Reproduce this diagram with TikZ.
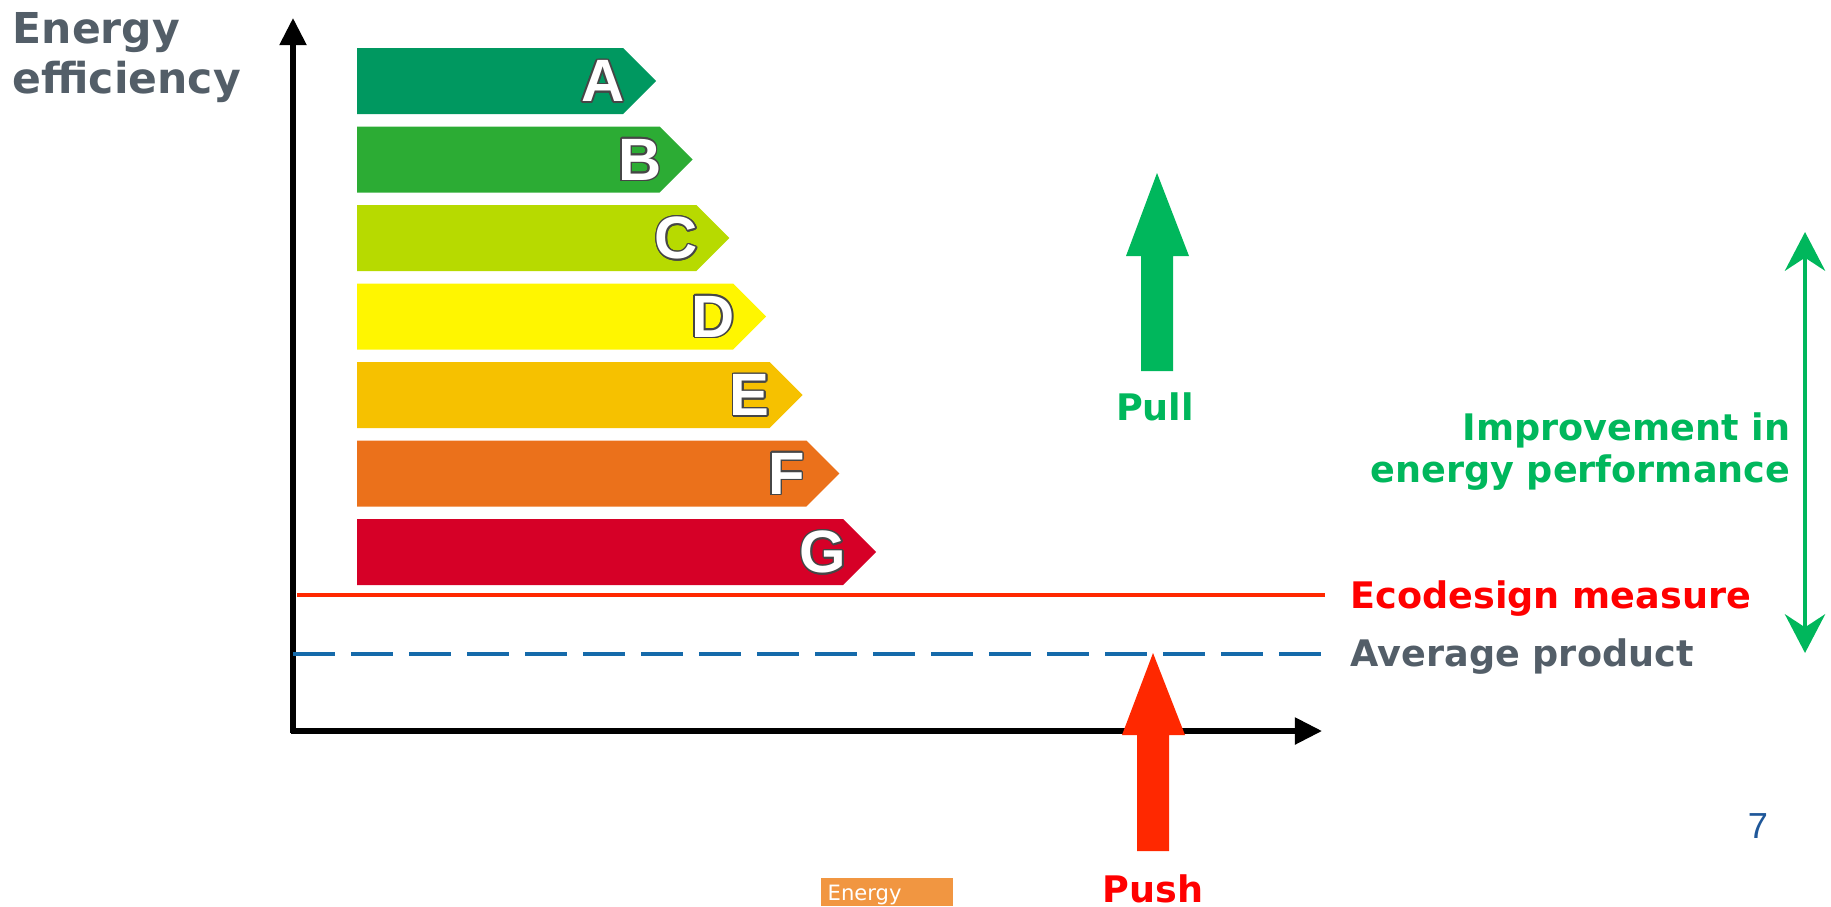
\documentclass[tikz,border=0pt]{standalone}
\usepackage{fontspec}
\setmainfont{DejaVu Sans}
\newfontfamily\arialfont{Liberation Sans}
\usepackage{contour}
\contourlength{0.45pt}
\usetikzlibrary{arrows.meta}
\usetikzlibrary{positioning}

\definecolor{barA}{RGB}{0,152,96}
\definecolor{barB}{RGB}{44,172,52}
\definecolor{barC}{RGB}{183,218,0}
\definecolor{barD}{RGB}{255,246,0}
\definecolor{barE}{RGB}{246,193,0}
\definecolor{barF}{RGB}{235,113,27}
\definecolor{barG}{RGB}{214,0,39}
\definecolor{letteredge}{RGB}{70,70,70}
\definecolor{ecored}{RGB}{255,40,0}
\definecolor{textred}{RGB}{255,0,0}
\definecolor{avgblue}{RGB}{21,106,170}
\definecolor{slategray}{RGB}{83,94,104}
\definecolor{pullgreen}{RGB}{0,183,92}
\definecolor{pageblue}{RGB}{31,87,153}
\definecolor{tagorange}{RGB}{241,150,65}

\tikzset{
  axisline/.style={line width=1.5pt, -{Triangle[length=7.7pt,width=7.4pt]}},
  heading/.style={inner sep=0pt, font=\bfseries\fontsize{10.4}{11.9}\selectfont},
  bigheading/.style={inner sep=0pt, font=\bfseries\fontsize{12.1}{12.1}\selectfont},
  classletter/.style={inner sep=0pt, text=white, font=\arialfont\bfseries\fontsize{17}{17}\selectfont},
}

\begin{document}
\begin{tikzpicture}[x=0.01cm, y=-0.01cm]
 \useasboundingbox (0,0) rectangle (1831,906);

 %axes
 \coordinate (origin) at (293,733);
 \coordinate (xstart) at (291,731);
 \coordinate (ytip) at (293,18);
 \coordinate (xtip) at (1322,731);
 \draw[axisline] (origin) -- (ytip);
 \draw[axisline] (xstart) -- (xtip);

 \node[bigheading, text=slategray, anchor=base west] (ylabel) at (12,43) {Energy};
 \node[bigheading, text=slategray, anchor=base west] (ylabelb) at (12,93) {efficiency};

 %energy label bars
 \def\dy{78.5}
 \def\dx{36.67}
 \foreach \i/\name/\col in {0/A/barA, 1/B/barB, 2/C/barC, 3/D/barD, 4/E/barE, 5/F/barF, 6/G/barG} {
   \pgfmathsetmacro\top{48+\i*\dy}
   \pgfmathsetmacro\tip{656+\i*\dx}
   \fill[\col] (357,\top) -- (\tip-33,\top) -- (\tip,\top+33) -- (\tip-33,\top+66) -- (357,\top+66) -- cycle;
   \node[classletter] (letter\name) at (\tip-53,\top+34) {\contour{letteredge}{\name}};
 }

 %threshold lines
 \coordinate (ecostart) at (297,595);
 \coordinate (ecoend) at (1325,595);
 \coordinate (avgstart) at (293,654);
 \coordinate (avgend) at (1322,654);
 \draw[ecored, line width=1.4pt] (ecostart) -- (ecoend);
 \draw[avgblue, line width=1.3pt, dash pattern=on 11.95pt off 4.55pt] (avgstart) -- (avgend);

 \node[heading, text=textred, anchor=base west] (eco) at (1350,608) {Ecodesign measure};
 \node[heading, text=slategray, anchor=base west] (avg) at (1350,666) {Average product};

 %pull
 \fill[pullgreen] (1141,371) -- (1141,256) -- (1126,256) -- (1157,173) -- (1189,256) -- (1173,256) -- (1173,371) -- cycle;
 \node[heading, text=pullgreen, anchor=base] (pull) at (1155,420) {Pull};

 %push
 \fill[ecored] (1137,851) -- (1137,735) -- (1122,735) -- (1153,653) -- (1185,735) -- (1169,735) -- (1169,851) -- cycle;
 \node[heading, text=textred, anchor=base] (push) at (1153,902) {Push};

 %improvement
 \coordinate (imprtop) at (1805,232);
 \coordinate (imprbot) at (1805,653);
 \draw[pullgreen, line width=1.4pt, {Stealth[length=11pt,width=11.4pt,inset=3.7pt]}-{Stealth[length=11pt,width=11.4pt,inset=3.7pt]}] (imprbot) -- (imprtop);
 \node[heading, text=pullgreen, anchor=base east] (impr) at (1791,440) {Improvement in};
 \node[heading, text=pullgreen, anchor=base east] (imprb) at (1791,482) {energy performance};

 %footer
 \node[inner sep=0pt, text=pageblue, font=\arialfont\fontsize{10.3}{12}\selectfont, anchor=base] (pagenum) at (1758,838) {7};
 \fill[tagorange] (821,878) rectangle (953,906);
 \node[inner sep=0pt, text=white, font=\fontsize{6}{7}\selectfont, anchor=base west] (tag) at (827,900) {Energy};

\end{tikzpicture}
\end{document}
